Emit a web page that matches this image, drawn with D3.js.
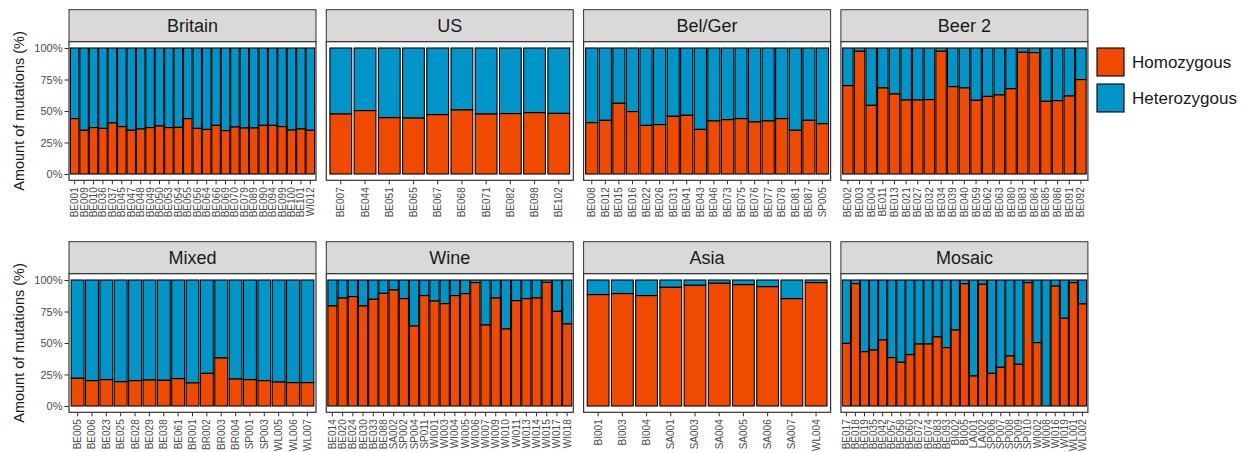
<!DOCTYPE html>
<html>
<head>
<meta charset="utf-8">
<script src="https://cdn.jsdelivr.net/npm/d3@7"></script>
<style>
  html, body { margin: 0; padding: 0; background: #fff; }
  svg { display: block; font-family: "Liberation Sans", Arial, sans-serif; }
</style>
</head>
<body>
<svg id="chart" width="1242" height="452"></svg>
<script>
// Share of homozygous mutations per strain, grouped by population.
const panelNames = ["Britain", "US", "Bel/Ger", "Beer 2", "Mixed", "Wine", "Asia", "Mosaic"];

const britainStrains = ["BE001","BE009","BE010","BE036","BE037","BE045","BE047","BE048","BE049","BE050","BE053","BE054","BE055","BE056","BE064","BE066","BE069","BE070","BE079","BE089","BE090","BE094","BE099","BE100","BE101","WI012"];
const britainHomozygous = [0.439,0.347,0.368,0.362,0.405,0.376,0.347,0.357,0.368,0.381,0.368,0.370,0.439,0.362,0.354,0.386,0.344,0.373,0.365,0.365,0.386,0.386,0.376,0.349,0.357,0.347];

const usStrains = ["BE007","BE044","BE051","BE065","BE067","BE068","BE071","BE082","BE098","BE102"];
const usHomozygous = [0.476,0.503,0.447,0.444,0.471,0.508,0.476,0.479,0.487,0.481];

const belGerStrains = ["BE008","BE012","BE015","BE016","BE022","BE026","BE031","BE041","BE043","BE046","BE073","BE075","BE076","BE077","BE078","BE081","BE087","SP005"];
const belGerHomozygous = [0.407,0.426,0.561,0.495,0.386,0.392,0.458,0.466,0.354,0.421,0.431,0.439,0.413,0.421,0.439,0.347,0.426,0.399];

const beer2Strains = ["BE002","BE003","BE004","BE011","BE013","BE021","BE027","BE032","BE034","BE039","BE040","BE059","BE062","BE063","BE080","BE083","BE084","BE085","BE086","BE091","BE092"];
const beer2Homozygous = [0.701,0.974,0.545,0.683,0.635,0.587,0.587,0.590,0.974,0.693,0.683,0.585,0.616,0.627,0.677,0.966,0.963,0.577,0.582,0.619,0.749];

const mixedStrains = ["BE005","BE006","BE023","BE025","BE028","BE029","BE038","BE061","BR001","BR002","BR003","BR004","SP001","SP003","WL005","WL006","WL007"];
const mixedHomozygous = [0.220,0.201,0.209,0.193,0.201,0.206,0.204,0.217,0.183,0.259,0.381,0.214,0.209,0.201,0.190,0.185,0.185];

const wineStrains = ["BE014","BE020","BE024","BE030","BE033","BE088","SA002","SP002","SP004","SP011","WI001","WI003","WI004","WI005","WI006","WI007","WI009","WI010","WI011","WI013","WI014","WI015","WI017","WI018"];
const wineHomozygous = [0.794,0.857,0.868,0.794,0.847,0.894,0.921,0.852,0.635,0.876,0.833,0.812,0.876,0.892,0.979,0.643,0.857,0.611,0.836,0.852,0.857,0.981,0.751,0.651];

const asiaStrains = ["BI001","BI003","BI004","SA001","SA003","SA004","SA005","SA006","SA007","WL004"];
const asiaHomozygous = [0.884,0.892,0.876,0.942,0.958,0.974,0.963,0.947,0.852,0.979];

const mosaicStrains = ["BE017","BE018","BE019","BE035","BE042","BE057","BE058","BE060","BE072","BE074","BE083","BE093","BI002","BI005","LA001","LA002","SP006","SP007","SP008","SP009","SP010","WI002","WI008","WI016","WI019","WL001","WL002"];
const mosaicHomozygous = [0.497,0.971,0.431,0.444,0.524,0.384,0.347,0.407,0.492,0.492,0.548,0.463,0.603,0.970,0.238,0.966,0.259,0.307,0.397,0.331,0.979,0.503,0.0,0.952,0.696,0.979,0.810];

const yTicks = [0, 0.25, 0.5, 0.75, 1];
const legendLabels = ["Homozygous", "Heterozygous"];

const panelStrains = [britainStrains, usStrains, belGerStrains, beer2Strains, mixedStrains, wineStrains, asiaStrains, mosaicStrains];
const panelHomozygous = [britainHomozygous, usHomozygous, belGerHomozygous, beer2Homozygous, mixedHomozygous, wineHomozygous, asiaHomozygous, mosaicHomozygous];

// Layout
const colors = { Homozygous: "#ef4a00", Heterozygous: "#0095c9" };
const panelW = 247, panelH = 138.6, panelGap = 257.3;
const left0 = 69, rowTop = [41.7, 273.7], stripH = 32;
const borderCol = "#333333";

const svg = d3.select("#chart");

const y = d3.scaleLinear().domain([-0.05, 1.05]).range([panelH, 0]);

panelNames.forEach((name, i) => {
  const row = Math.floor(i / 4), col = i % 4;
  const px = left0 + col * panelGap, py = rowTop[row];
  const strains = panelStrains[i], homo = panelHomozygous[i];
  const rows = strains.map((s, j) => ({ strain: s, homo: homo[j] }));

  const x = d3.scaleBand().domain(strains).range([0, panelW])
    .paddingInner(0.1).paddingOuter(0.15);

  // strip
  const strip = svg.append("g").attr("transform", `translate(${px},${py - stripH})`);
  strip.append("rect").attr("width", panelW).attr("height", stripH)
    .attr("fill", "#d9d9d9").attr("stroke", borderCol).attr("stroke-width", 1);
  strip.append("text").attr("x", panelW / 2).attr("y", stripH / 2).attr("dy", "0.36em")
    .attr("text-anchor", "middle").attr("font-size", 18).attr("fill", "#1a1a1a").text(name);

  const g = svg.append("g").attr("transform", `translate(${px},${py})`);
  g.append("rect").attr("width", panelW).attr("height", panelH).attr("fill", "#fff");

  // heterozygous part on top
  g.selectAll("rect.het").data(rows).join("rect").attr("class", "het")
    .attr("x", d => x(d.strain)).attr("width", x.bandwidth())
    .attr("y", y(1)).attr("height", d => y(d.homo) - y(1))
    .attr("fill", colors.Heterozygous).attr("stroke", "#000").attr("stroke-width", 1.1);
  // homozygous part at the base
  g.selectAll("rect.hom").data(rows).join("rect").attr("class", "hom")
    .attr("x", d => x(d.strain)).attr("width", x.bandwidth())
    .attr("y", d => y(d.homo)).attr("height", d => y(0) - y(d.homo))
    .attr("fill", colors.Homozygous).attr("stroke", "#000").attr("stroke-width", 1.1);

  g.append("rect").attr("width", panelW).attr("height", panelH)
    .attr("fill", "none").attr("stroke", borderCol).attr("stroke-width", 1.2);

  // x axis
  const xa = g.append("g").attr("transform", `translate(0,${panelH})`)
    .call(d3.axisBottom(x).tickSize(4).tickSizeOuter(0));
  xa.select(".domain").remove();
  xa.selectAll(".tick line").attr("stroke", borderCol);
  xa.selectAll(".tick text")
    .attr("transform", "rotate(-90)").attr("x", -7).attr("y", 0).attr("dy", "0.35em")
    .style("text-anchor", "end").attr("font-size", 10).attr("fill", "#4d4d4d")
    .attr("font-family", "'Liberation Sans', Arial, sans-serif");

  // y axis on the first column
  if (col === 0) {
    const ya = g.append("g").call(d3.axisLeft(y).tickValues(yTicks)
      .tickFormat(d3.format(".0%")).tickSize(4.5).tickPadding(2));
    ya.select(".domain").remove();
    ya.selectAll(".tick line").attr("stroke", borderCol);
    ya.selectAll(".tick text").attr("font-size", 11).attr("fill", "#4d4d4d")
      .attr("font-family", "'Liberation Sans', Arial, sans-serif");

    svg.append("text")
      .attr("transform", `translate(19,${py + panelH / 2}) rotate(-90)`)
      .attr("dy", "0.35em").attr("text-anchor", "middle")
      .attr("font-size", 14.5).attr("fill", "#1a1a1a").text("Amount of mutations (%)");
  }
});

// legend
const legend = svg.append("g").attr("transform", "translate(1097,48)");
legendLabels.forEach((lab, k) => {
  const gy = k * 36;
  legend.append("rect").attr("x", 0).attr("y", gy).attr("width", 27).attr("height", 28)
    .attr("fill", colors[lab]).attr("stroke", "#000").attr("stroke-width", 1.1);
  legend.append("text").attr("x", 35).attr("y", gy + 14).attr("dy", "0.36em")
    .attr("font-size", 17).attr("fill", "#1a1a1a").text(lab);
});
</script>
</body>
</html>
